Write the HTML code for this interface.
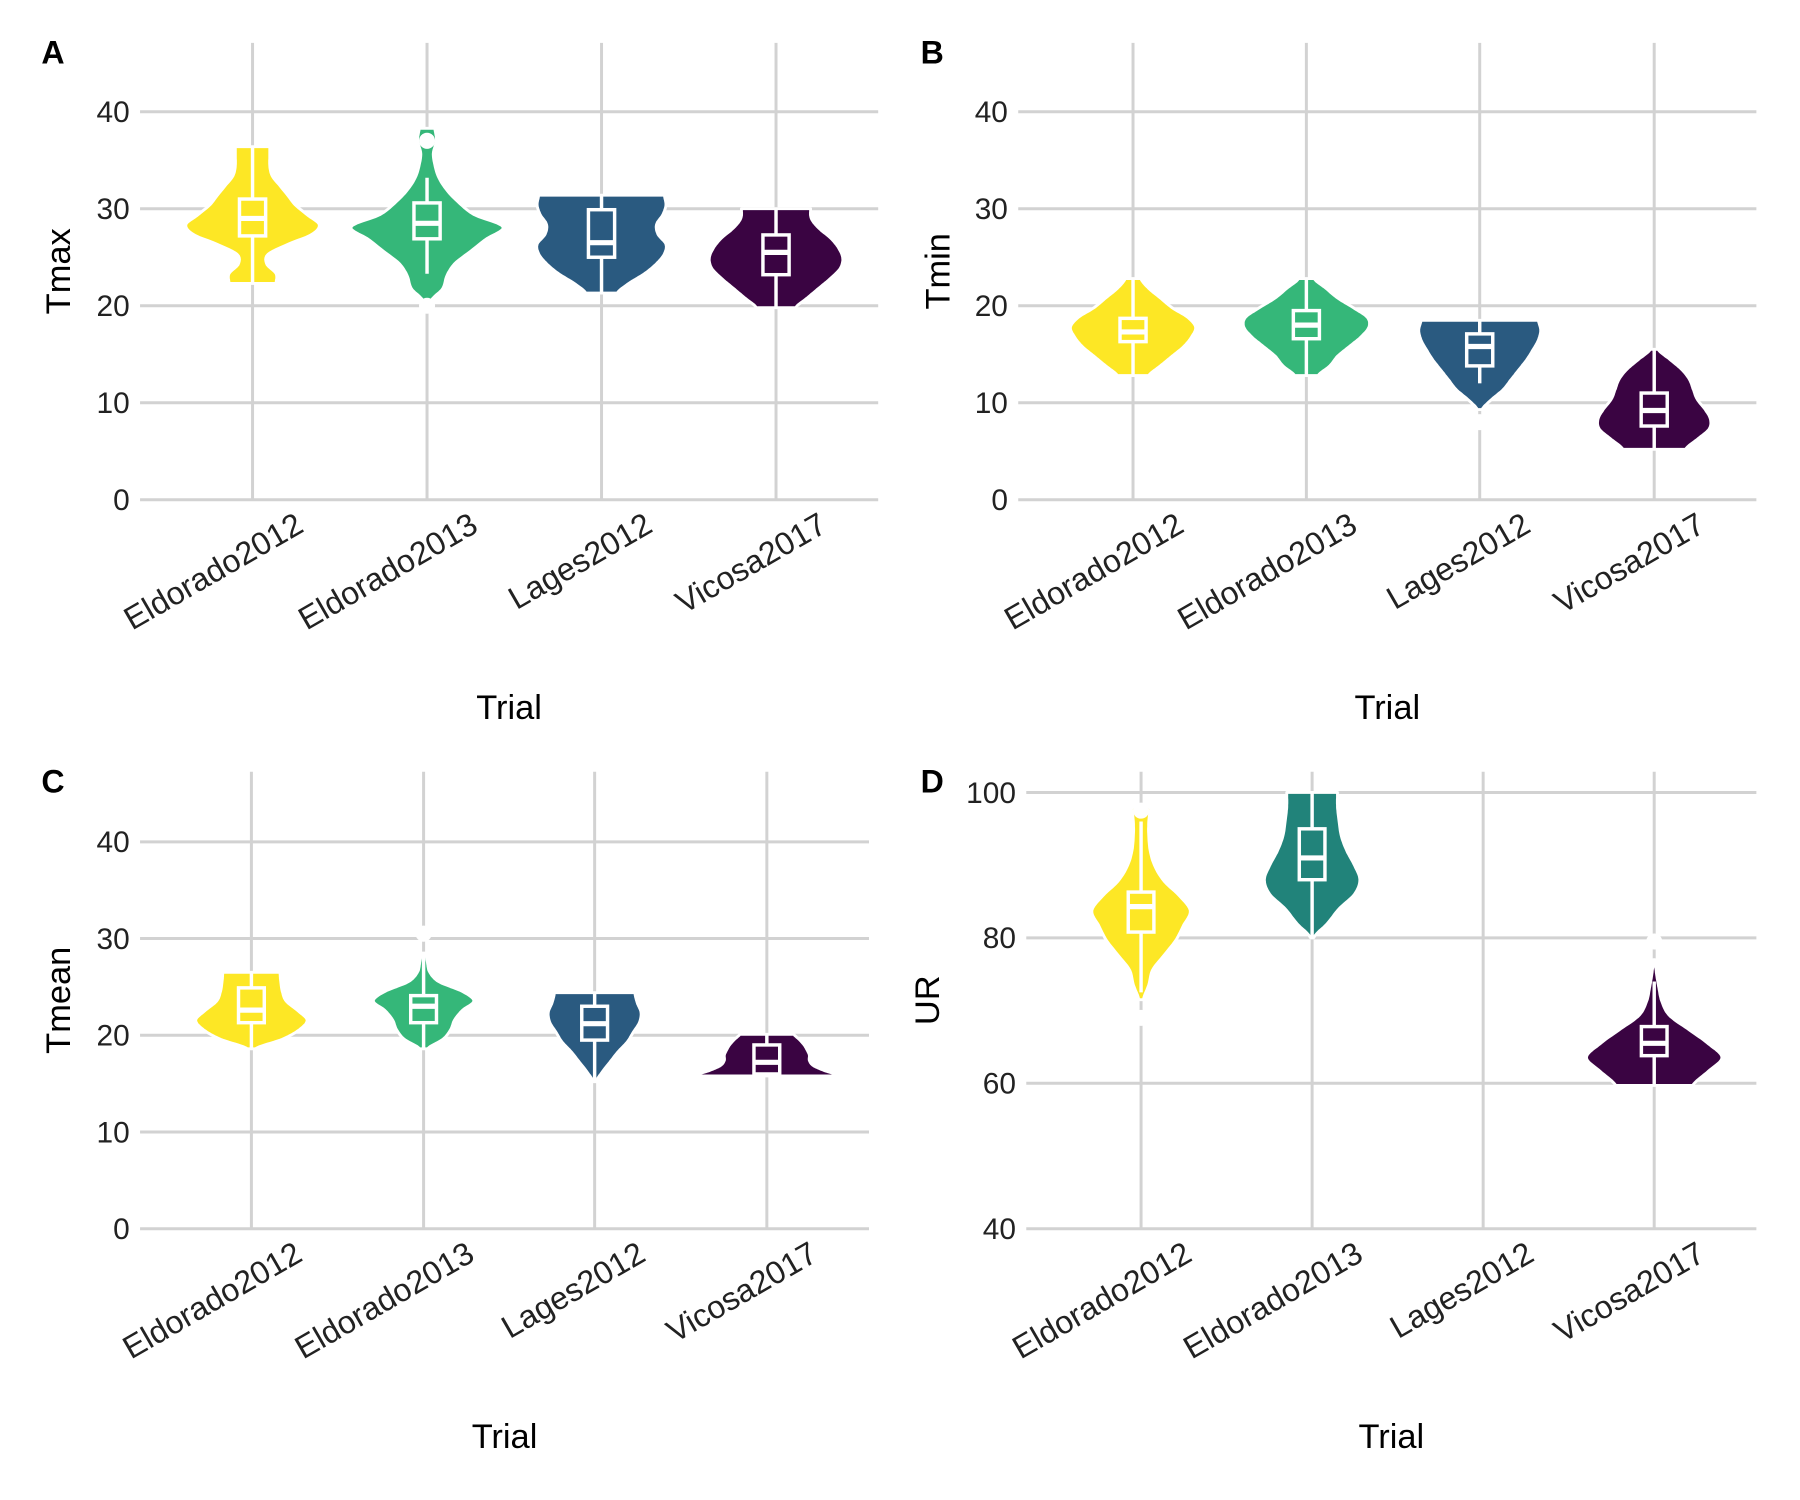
<!DOCTYPE html>
<html><head><meta charset="utf-8"><style>
html,body{margin:0;padding:0;background:#fff;}
svg{display:block;}
text{font-family:"Liberation Sans",Arial,sans-serif;}
</style></head><body>
<svg id="fig" width="1800" height="1500" viewBox="0 0 1568 1306" xmlns="http://www.w3.org/2000/svg"></svg>
<script>
const categories = ["Eldorado2012","Eldorado2013","Lages2012","Vicosa2017"];
// violin ranges [lo, hi]
const tmaxRange = [[22.3,36.4],[20.5,38.3],[21.3,31.4],[19.8,30]];
const tmaxWidths = [
 [0.3,0.3,0.18,0.2,0.45,0.75,0.85,0.7,0.55,0.45,0.35,0.25,0.22,0.22,0.22],
 [0.05,0.2,0.25,0.35,0.55,0.75,0.97,0.6,0.4,0.25,0.15,0.1,0.08,0.12,0.1],
 [0.2,0.35,0.55,0.7,0.8,0.82,0.72,0.7,0.78,0.82,0.8],
 [0.25,0.4,0.55,0.7,0.82,0.85,0.8,0.7,0.55,0.45,0.44]];
// box [whiskerLo, q1, median, q3, whiskerHi]
const tmaxBox = [[22.3,27.2,29,31,36.4],[23.3,26.9,28.5,30.6,33.2],[21.3,25,26.5,29.9,31.4],[19.8,23.2,25.5,27.3,30]];
const tmaxOut = [[],[37,20],[],[]];

const tminRange = [[12.8,22.8],[12.8,22.8],[9.3,18.5],[5.2,15.5]];
const tminWidths = [
 [0.2,0.35,0.5,0.65,0.75,0.8,0.7,0.5,0.35,0.2,0.1],
 [0.15,0.3,0.4,0.55,0.7,0.8,0.78,0.6,0.4,0.25,0.1],
 [0.03,0.15,0.3,0.4,0.5,0.6,0.68,0.75,0.78,0.75],
 [0.4,0.55,0.7,0.72,0.65,0.55,0.5,0.45,0.35,0.2,0.05]];
const tminBox = [[12.8,16.3,17.3,18.7,22.8],[12.8,16.6,18,19.5,22.8],[12,13.8,15.8,17.1,18.5],[5.2,7.6,9.2,11,15.5]];
const tminOut = [[],[],[8],[]];

const tmeanRange = [[18.6,26.5],[18.6,28.5],[15.2,24.4],[15.8,20.1]];
const tmeanWidths = [
 [0.05,0.4,0.62,0.72,0.6,0.45,0.4,0.38,0.37],
 [0.05,0.25,0.35,0.4,0.5,0.65,0.5,0.2,0.08,0.05,0.03],
 [0.02,0.1,0.2,0.3,0.42,0.5,0.58,0.6,0.55,0.52],
 [0.95,0.75,0.6,0.55,0.55,0.52,0.48,0.42,0.35]];
const tmeanBox = [[18.6,21.3,22.6,24.9,26.5],[18.6,21.3,23,24.1,28.5],[15.2,19.5,21.2,23,24.4],[15.8,16,17.2,19,20.1]];
const tmeanOut = [[],[30.5],[],[]];

const urRange = [[71.5,98],[80,100],null,[59.7,77]];
const urWidths = [
 [0.03,0.1,0.15,0.3,0.45,0.55,0.64,0.5,0.3,0.18,0.12,0.1,0.1,0.12],
 [0.02,0.2,0.35,0.55,0.62,0.55,0.45,0.38,0.35,0.33,0.33],
 null,
 [0.5,0.7,0.88,0.7,0.45,0.2,0.1,0.06,0.03,0.01]];
const urBox = [[72.5,80.8,84.3,86.3,96],[80,88,91,95,100],null,[59.7,63.8,65.5,67.8,74]];
const urOut = [[69,97.5],[],[],[79.5]];

const colorsABC = ["#FDE725","#35B779","#2A5A80","#3A0442"];
const colorsD = ["#FDE725","#21837A","#2A5A80","#3A0442"];

const yTicks = [0,10,20,30,40];
const yTicksD = [40,60,80,100];

const NS="http://www.w3.org/2000/svg";
const svg=document.getElementById('fig');
function mk(tag,attrs,parent){const e=document.createElementNS(NS,tag);for(const k in attrs)e.setAttribute(k,attrs[k]);(parent||svg).appendChild(e);return e;}

function interp(w,f){
  const n=w.length;const a=Math.min(n-2,Math.floor(f));const t=f-a;
  const p0=w[Math.max(0,a-1)],p1=w[a],p2=w[a+1],p3=w[Math.min(n-1,a+2)];
  const v=0.5*((2*p1)+(-p0+p2)*t+(2*p0-5*p1+4*p2-p3)*t*t+(-p0+3*p1-3*p2+p3)*t*t*t);
  return Math.max(0.01,v);
}

function panel(p){
  const g=mk('g',{});
  
  
  const y=v=>p.y0+(v-p.v0)*(p.y1-p.y0)/(p.v1-p.v0);
  const sp=(p.cx[3]-p.cx[0])/3;
  p.ticks.forEach(t=>{
    const l=mk('line',{x1:p.gx0,x2:p.gx1,y1:y(t),y2:y(t),stroke:'#d2d2d2','stroke-width':2.6},g);
    
    const tx=mk('text',{x:p.gx0-9,y:y(t)+9,'text-anchor':'end','font-size':26,fill:'#222'},g);
    tx.textContent=t;
    
  });
  p.cx.forEach((c,i)=>{
    const l=mk('line',{x1:c,x2:c,y1:p.top,y2:p.y0,stroke:'#d2d2d2','stroke-width':2.6},g);
    
    const tx=mk('text',{x:0,y:0,'text-anchor':'end','font-size':28,fill:'#222',transform:`translate(${c+46},${p.y0+27}) rotate(-30)`},g);
    tx.textContent=categories[i];
    
  });
  p.range.forEach((r,i)=>{
    if(!r)return;
    const w=p.widths[i],n=w.length,col=p.colors[i],c=p.cx[i];
    const pts=[];const M=80;
    for(let k=0;k<=M;k++){
      const ww=interp(w,k/M*(n-1));
      const v=r[0]+(r[1]-r[0])*k/M;
      pts.push([ww*0.45*sp,y(v)]);
    }
    let d='M'+pts.map(q=>(c+q[0]).toFixed(1)+','+q[1].toFixed(1)).join('L');
    d+='L'+pts.slice().reverse().map(q=>(c-q[0]).toFixed(1)+','+q[1].toFixed(1)).join('L')+'Z';
    const vp=mk('path',{d:d,fill:col,stroke:'#fff','stroke-width':2.5,'stroke-linejoin':'round'},g);
    
    
    const bx=p.box[i],bw=0.075*sp;
    const wl=mk('line',{x1:c,x2:c,y1:y(bx[0]),y2:y(bx[4]),stroke:'#fff','stroke-width':3},g);
    
    const rc=mk('rect',{x:c-bw,y:y(bx[3]),width:2*bw,height:y(bx[1])-y(bx[3]),fill:col,stroke:'#fff','stroke-width':3},g);
    
    const md=mk('line',{x1:c-bw,x2:c+bw,y1:y(bx[2]),y2:y(bx[2]),stroke:'#fff','stroke-width':4.5},g);
    
  });
  p.out.forEach((arr,i)=>arr.forEach(v=>{
    const o=mk('circle',{cx:p.cx[i],cy:y(v),r:7,fill:'#fff'},g);
    
  }));
  const L=mk('text',{x:p.lx,y:p.top+18,'font-size':28,'font-weight':'bold',fill:'#000'},g);
  L.textContent=p.letter;
  const yt=mk('text',{x:0,y:0,'text-anchor':'middle','font-size':30,fill:'#000',transform:`translate(${p.ytx},${(p.top+p.y0)/2}) rotate(-90)`},g);
  yt.textContent=p.ytitle;
  const xt=mk('text',{x:(p.gx0+p.gx1)/2,y:p.y0+191,'text-anchor':'middle','font-size':30,fill:'#000'},g);
  xt.textContent='Trial';
}
panel({letter:'A',ytitle:'Tmax',top:37,y0:435,y1:97,v0:0,v1:40,gx0:122,gx1:765,cx:[220,372,524,676],lx:36,ytx:61,ticks:yTicks,range:tmaxRange,widths:tmaxWidths,box:tmaxBox,out:tmaxOut,colors:colorsABC});
panel({letter:'B',ytitle:'Tmin',top:37,y0:435,y1:97,v0:0,v1:40,gx0:887,gx1:1530,cx:[987,1138,1289,1441],lx:802,ytx:827,ticks:yTicks,range:tminRange,widths:tminWidths,box:tminBox,out:tminOut,colors:colorsABC});
panel({letter:'C',ytitle:'Tmean',top:672,y0:1070,y1:733,v0:0,v1:40,gx0:122,gx1:757,cx:[219,369,518,668],lx:36,ytx:61,ticks:yTicks,range:tmeanRange,widths:tmeanWidths,box:tmeanBox,out:tmeanOut,colors:colorsABC});
panel({letter:'D',ytitle:'UR',top:672,y0:1070,y1:690,v0:40,v1:100,gx0:894,gx1:1530,cx:[994,1143,1292,1441],lx:802,ytx:818,ticks:yTicksD,range:urRange,widths:urWidths,box:urBox,out:urOut,colors:colorsD});
</script>
</body></html>
